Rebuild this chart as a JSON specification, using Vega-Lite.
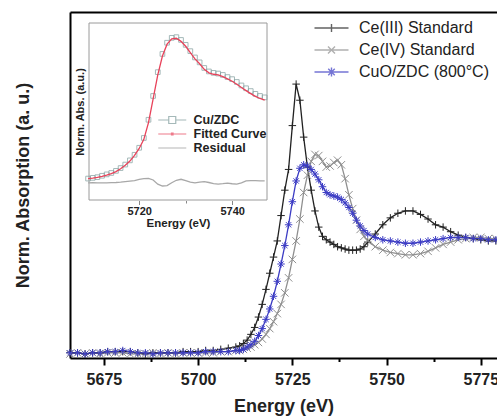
{
  "$schema": "https://vega.github.io/schema/vega-lite/v6.json",
  "width": 427,
  "height": 346,
  "autosize": "none",
  "padding": {"left": 70, "top": 12, "right": 0, "bottom": 59},
  "background": "white",
  "config": {"view": {"stroke": null}, "font": "Liberation Sans", "axis": {"grid": false}},
  "datasets": {
    "main": [
      {"series": "Ce(III) Standard", "E": 5666, "A": 0.01}, {"series": "Ce(III) Standard", "E": 5668, "A": 0.01}, {"series": "Ce(III) Standard", "E": 5670, "A": 0.0}, {"series": "Ce(III) Standard", "E": 5672, "A": 0.01}, {"series": "Ce(III) Standard", "E": 5674, "A": 0.01}, {"series": "Ce(III) Standard", "E": 5676, "A": 0.02}, {"series": "Ce(III) Standard", "E": 5678, "A": 0.02}, {"series": "Ce(III) Standard", "E": 5680, "A": 0.02}, {"series": "Ce(III) Standard", "E": 5682, "A": 0.02}, {"series": "Ce(III) Standard", "E": 5684, "A": 0.01}, {"series": "Ce(III) Standard", "E": 5686, "A": 0.0}, {"series": "Ce(III) Standard", "E": 5688, "A": 0.01}, {"series": "Ce(III) Standard", "E": 5690, "A": 0.01}, {"series": "Ce(III) Standard", "E": 5692, "A": 0.01}, {"series": "Ce(III) Standard", "E": 5694, "A": 0.01}, {"series": "Ce(III) Standard", "E": 5696, "A": 0.02}, {"series": "Ce(III) Standard", "E": 5698, "A": 0.02}, {"series": "Ce(III) Standard", "E": 5700, "A": 0.02}, {"series": "Ce(III) Standard", "E": 5702, "A": 0.03}, {"series": "Ce(III) Standard", "E": 5704, "A": 0.03}, {"series": "Ce(III) Standard", "E": 5706, "A": 0.04}, {"series": "Ce(III) Standard", "E": 5708, "A": 0.05},
      {"series": "Ce(III) Standard", "E": 5710, "A": 0.06}, {"series": "Ce(III) Standard", "E": 5711, "A": 0.07}, {"series": "Ce(III) Standard", "E": 5712, "A": 0.09}, {"series": "Ce(III) Standard", "E": 5713, "A": 0.12}, {"series": "Ce(III) Standard", "E": 5714, "A": 0.17}, {"series": "Ce(III) Standard", "E": 5715, "A": 0.23}, {"series": "Ce(III) Standard", "E": 5716, "A": 0.32}, {"series": "Ce(III) Standard", "E": 5717, "A": 0.43}, {"series": "Ce(III) Standard", "E": 5718, "A": 0.56}, {"series": "Ce(III) Standard", "E": 5719, "A": 0.7}, {"series": "Ce(III) Standard", "E": 5720, "A": 0.84}, {"series": "Ce(III) Standard", "E": 5721, "A": 0.98}, {"series": "Ce(III) Standard", "E": 5722, "A": 1.2}, {"series": "Ce(III) Standard", "E": 5723, "A": 1.42}, {"series": "Ce(III) Standard", "E": 5724, "A": 1.6}, {"series": "Ce(III) Standard", "E": 5725, "A": 1.98}, {"series": "Ce(III) Standard", "E": 5726, "A": 2.34}, {"series": "Ce(III) Standard", "E": 5727, "A": 2.2}, {"series": "Ce(III) Standard", "E": 5728, "A": 1.88}, {"series": "Ce(III) Standard", "E": 5729, "A": 1.62}, {"series": "Ce(III) Standard", "E": 5730, "A": 1.42}, {"series": "Ce(III) Standard", "E": 5731, "A": 1.24}, {"series": "Ce(III) Standard", "E": 5732, "A": 1.1}, {"series": "Ce(III) Standard", "E": 5733, "A": 1.02}, {"series": "Ce(III) Standard", "E": 5734, "A": 0.99}, {"series": "Ce(III) Standard", "E": 5735, "A": 0.97}, {"series": "Ce(III) Standard", "E": 5736, "A": 0.95}, {"series": "Ce(III) Standard", "E": 5737, "A": 0.93}, {"series": "Ce(III) Standard", "E": 5738, "A": 0.92}, {"series": "Ce(III) Standard", "E": 5739, "A": 0.91}, {"series": "Ce(III) Standard", "E": 5740, "A": 0.9}, {"series": "Ce(III) Standard", "E": 5741, "A": 0.9}, {"series": "Ce(III) Standard", "E": 5742, "A": 0.9}, {"series": "Ce(III) Standard", "E": 5743, "A": 0.91}, {"series": "Ce(III) Standard", "E": 5744, "A": 0.93}, {"series": "Ce(III) Standard", "E": 5745, "A": 0.97},
      {"series": "Ce(III) Standard", "E": 5747, "A": 1.04}, {"series": "Ce(III) Standard", "E": 5749, "A": 1.12}, {"series": "Ce(III) Standard", "E": 5751, "A": 1.18}, {"series": "Ce(III) Standard", "E": 5753, "A": 1.22}, {"series": "Ce(III) Standard", "E": 5755, "A": 1.24}, {"series": "Ce(III) Standard", "E": 5757, "A": 1.24}, {"series": "Ce(III) Standard", "E": 5759, "A": 1.21}, {"series": "Ce(III) Standard", "E": 5761, "A": 1.17}, {"series": "Ce(III) Standard", "E": 5763, "A": 1.12}, {"series": "Ce(III) Standard", "E": 5765, "A": 1.1}, {"series": "Ce(III) Standard", "E": 5767, "A": 1.06}, {"series": "Ce(III) Standard", "E": 5769, "A": 1.03}, {"series": "Ce(III) Standard", "E": 5771, "A": 1.01}, {"series": "Ce(III) Standard", "E": 5773, "A": 1.0}, {"series": "Ce(III) Standard", "E": 5775, "A": 0.99}, {"series": "Ce(III) Standard", "E": 5777, "A": 0.98}, {"series": "Ce(III) Standard", "E": 5779, "A": 0.98},

      {"series": "Ce(IV) Standard", "E": 5666, "A": 0.0}, {"series": "Ce(IV) Standard", "E": 5668, "A": 0.01}, {"series": "Ce(IV) Standard", "E": 5670, "A": 0.0}, {"series": "Ce(IV) Standard", "E": 5672, "A": 0.01}, {"series": "Ce(IV) Standard", "E": 5674, "A": 0.0}, {"series": "Ce(IV) Standard", "E": 5676, "A": 0.01}, {"series": "Ce(IV) Standard", "E": 5678, "A": 0.01}, {"series": "Ce(IV) Standard", "E": 5680, "A": 0.01}, {"series": "Ce(IV) Standard", "E": 5682, "A": 0.0}, {"series": "Ce(IV) Standard", "E": 5684, "A": 0.0}, {"series": "Ce(IV) Standard", "E": 5686, "A": 0.0}, {"series": "Ce(IV) Standard", "E": 5688, "A": 0.01}, {"series": "Ce(IV) Standard", "E": 5690, "A": 0.0}, {"series": "Ce(IV) Standard", "E": 5692, "A": 0.01}, {"series": "Ce(IV) Standard", "E": 5694, "A": 0.0}, {"series": "Ce(IV) Standard", "E": 5696, "A": 0.01}, {"series": "Ce(IV) Standard", "E": 5698, "A": 0.01}, {"series": "Ce(IV) Standard", "E": 5700, "A": 0.01}, {"series": "Ce(IV) Standard", "E": 5702, "A": 0.01}, {"series": "Ce(IV) Standard", "E": 5704, "A": 0.01}, {"series": "Ce(IV) Standard", "E": 5706, "A": 0.02}, {"series": "Ce(IV) Standard", "E": 5708, "A": 0.02},
      {"series": "Ce(IV) Standard", "E": 5710, "A": 0.03}, {"series": "Ce(IV) Standard", "E": 5711, "A": 0.03}, {"series": "Ce(IV) Standard", "E": 5712, "A": 0.04}, {"series": "Ce(IV) Standard", "E": 5713, "A": 0.05}, {"series": "Ce(IV) Standard", "E": 5714, "A": 0.06}, {"series": "Ce(IV) Standard", "E": 5715, "A": 0.08}, {"series": "Ce(IV) Standard", "E": 5716, "A": 0.1}, {"series": "Ce(IV) Standard", "E": 5717, "A": 0.13}, {"series": "Ce(IV) Standard", "E": 5718, "A": 0.17}, {"series": "Ce(IV) Standard", "E": 5719, "A": 0.22}, {"series": "Ce(IV) Standard", "E": 5720, "A": 0.28}, {"series": "Ce(IV) Standard", "E": 5721, "A": 0.35}, {"series": "Ce(IV) Standard", "E": 5722, "A": 0.43}, {"series": "Ce(IV) Standard", "E": 5723, "A": 0.53}, {"series": "Ce(IV) Standard", "E": 5724, "A": 0.66}, {"series": "Ce(IV) Standard", "E": 5725, "A": 0.82}, {"series": "Ce(IV) Standard", "E": 5726, "A": 0.98}, {"series": "Ce(IV) Standard", "E": 5727, "A": 1.17}, {"series": "Ce(IV) Standard", "E": 5728, "A": 1.4}, {"series": "Ce(IV) Standard", "E": 5729, "A": 1.55}, {"series": "Ce(IV) Standard", "E": 5730, "A": 1.67}, {"series": "Ce(IV) Standard", "E": 5731, "A": 1.73}, {"series": "Ce(IV) Standard", "E": 5732, "A": 1.72}, {"series": "Ce(IV) Standard", "E": 5733, "A": 1.67}, {"series": "Ce(IV) Standard", "E": 5734, "A": 1.62}, {"series": "Ce(IV) Standard", "E": 5735, "A": 1.63}, {"series": "Ce(IV) Standard", "E": 5736, "A": 1.66}, {"series": "Ce(IV) Standard", "E": 5737, "A": 1.68}, {"series": "Ce(IV) Standard", "E": 5738, "A": 1.64}, {"series": "Ce(IV) Standard", "E": 5739, "A": 1.52}, {"series": "Ce(IV) Standard", "E": 5740, "A": 1.38}, {"series": "Ce(IV) Standard", "E": 5741, "A": 1.26}, {"series": "Ce(IV) Standard", "E": 5742, "A": 1.16}, {"series": "Ce(IV) Standard", "E": 5743, "A": 1.08}, {"series": "Ce(IV) Standard", "E": 5744, "A": 1.02}, {"series": "Ce(IV) Standard", "E": 5745, "A": 0.98},
      {"series": "Ce(IV) Standard", "E": 5747, "A": 0.93}, {"series": "Ce(IV) Standard", "E": 5749, "A": 0.9}, {"series": "Ce(IV) Standard", "E": 5751, "A": 0.88}, {"series": "Ce(IV) Standard", "E": 5753, "A": 0.87}, {"series": "Ce(IV) Standard", "E": 5755, "A": 0.86}, {"series": "Ce(IV) Standard", "E": 5757, "A": 0.86}, {"series": "Ce(IV) Standard", "E": 5759, "A": 0.87}, {"series": "Ce(IV) Standard", "E": 5761, "A": 0.89}, {"series": "Ce(IV) Standard", "E": 5763, "A": 0.92}, {"series": "Ce(IV) Standard", "E": 5765, "A": 0.95}, {"series": "Ce(IV) Standard", "E": 5767, "A": 0.97}, {"series": "Ce(IV) Standard", "E": 5769, "A": 0.99}, {"series": "Ce(IV) Standard", "E": 5771, "A": 1.0}, {"series": "Ce(IV) Standard", "E": 5773, "A": 1.01}, {"series": "Ce(IV) Standard", "E": 5775, "A": 1.01}, {"series": "Ce(IV) Standard", "E": 5777, "A": 1.0}, {"series": "Ce(IV) Standard", "E": 5779, "A": 1.0},

      {"series": "CuO/ZDC (800°C)", "E": 5666, "A": 0.01}, {"series": "CuO/ZDC (800°C)", "E": 5668, "A": 0.01}, {"series": "CuO/ZDC (800°C)", "E": 5670, "A": 0.0}, {"series": "CuO/ZDC (800°C)", "E": 5672, "A": 0.01}, {"series": "CuO/ZDC (800°C)", "E": 5674, "A": 0.01}, {"series": "CuO/ZDC (800°C)", "E": 5676, "A": 0.02}, {"series": "CuO/ZDC (800°C)", "E": 5678, "A": 0.02}, {"series": "CuO/ZDC (800°C)", "E": 5680, "A": 0.03}, {"series": "CuO/ZDC (800°C)", "E": 5682, "A": 0.02}, {"series": "CuO/ZDC (800°C)", "E": 5684, "A": 0.01}, {"series": "CuO/ZDC (800°C)", "E": 5686, "A": 0.01}, {"series": "CuO/ZDC (800°C)", "E": 5688, "A": 0.0}, {"series": "CuO/ZDC (800°C)", "E": 5690, "A": 0.01}, {"series": "CuO/ZDC (800°C)", "E": 5692, "A": 0.01}, {"series": "CuO/ZDC (800°C)", "E": 5694, "A": 0.01}, {"series": "CuO/ZDC (800°C)", "E": 5696, "A": 0.01}, {"series": "CuO/ZDC (800°C)", "E": 5698, "A": 0.01}, {"series": "CuO/ZDC (800°C)", "E": 5700, "A": 0.01}, {"series": "CuO/ZDC (800°C)", "E": 5702, "A": 0.02}, {"series": "CuO/ZDC (800°C)", "E": 5704, "A": 0.02}, {"series": "CuO/ZDC (800°C)", "E": 5706, "A": 0.02}, {"series": "CuO/ZDC (800°C)", "E": 5708, "A": 0.02},
      {"series": "CuO/ZDC (800°C)", "E": 5710, "A": 0.03}, {"series": "CuO/ZDC (800°C)", "E": 5711, "A": 0.03}, {"series": "CuO/ZDC (800°C)", "E": 5712, "A": 0.04}, {"series": "CuO/ZDC (800°C)", "E": 5713, "A": 0.06}, {"series": "CuO/ZDC (800°C)", "E": 5714, "A": 0.08}, {"series": "CuO/ZDC (800°C)", "E": 5715, "A": 0.11}, {"series": "CuO/ZDC (800°C)", "E": 5716, "A": 0.16}, {"series": "CuO/ZDC (800°C)", "E": 5717, "A": 0.22}, {"series": "CuO/ZDC (800°C)", "E": 5718, "A": 0.3}, {"series": "CuO/ZDC (800°C)", "E": 5719, "A": 0.39}, {"series": "CuO/ZDC (800°C)", "E": 5720, "A": 0.5}, {"series": "CuO/ZDC (800°C)", "E": 5721, "A": 0.63}, {"series": "CuO/ZDC (800°C)", "E": 5722, "A": 0.78}, {"series": "CuO/ZDC (800°C)", "E": 5723, "A": 0.94}, {"series": "CuO/ZDC (800°C)", "E": 5724, "A": 1.12}, {"series": "CuO/ZDC (800°C)", "E": 5725, "A": 1.32}, {"series": "CuO/ZDC (800°C)", "E": 5726, "A": 1.5}, {"series": "CuO/ZDC (800°C)", "E": 5727, "A": 1.61}, {"series": "CuO/ZDC (800°C)", "E": 5728, "A": 1.64}, {"series": "CuO/ZDC (800°C)", "E": 5729, "A": 1.63}, {"series": "CuO/ZDC (800°C)", "E": 5730, "A": 1.6}, {"series": "CuO/ZDC (800°C)", "E": 5731, "A": 1.56}, {"series": "CuO/ZDC (800°C)", "E": 5732, "A": 1.51}, {"series": "CuO/ZDC (800°C)", "E": 5733, "A": 1.45}, {"series": "CuO/ZDC (800°C)", "E": 5734, "A": 1.4}, {"series": "CuO/ZDC (800°C)", "E": 5735, "A": 1.38}, {"series": "CuO/ZDC (800°C)", "E": 5736, "A": 1.37}, {"series": "CuO/ZDC (800°C)", "E": 5737, "A": 1.36}, {"series": "CuO/ZDC (800°C)", "E": 5738, "A": 1.34}, {"series": "CuO/ZDC (800°C)", "E": 5739, "A": 1.31}, {"series": "CuO/ZDC (800°C)", "E": 5740, "A": 1.27}, {"series": "CuO/ZDC (800°C)", "E": 5741, "A": 1.22}, {"series": "CuO/ZDC (800°C)", "E": 5742, "A": 1.16}, {"series": "CuO/ZDC (800°C)", "E": 5743, "A": 1.11}, {"series": "CuO/ZDC (800°C)", "E": 5744, "A": 1.07}, {"series": "CuO/ZDC (800°C)", "E": 5745, "A": 1.04},
      {"series": "CuO/ZDC (800°C)", "E": 5747, "A": 1.01}, {"series": "CuO/ZDC (800°C)", "E": 5749, "A": 0.99}, {"series": "CuO/ZDC (800°C)", "E": 5751, "A": 0.98}, {"series": "CuO/ZDC (800°C)", "E": 5753, "A": 0.97}, {"series": "CuO/ZDC (800°C)", "E": 5755, "A": 0.96}, {"series": "CuO/ZDC (800°C)", "E": 5757, "A": 0.96}, {"series": "CuO/ZDC (800°C)", "E": 5759, "A": 0.97}, {"series": "CuO/ZDC (800°C)", "E": 5761, "A": 0.98}, {"series": "CuO/ZDC (800°C)", "E": 5763, "A": 0.99}, {"series": "CuO/ZDC (800°C)", "E": 5765, "A": 1.0}, {"series": "CuO/ZDC (800°C)", "E": 5767, "A": 1.01}, {"series": "CuO/ZDC (800°C)", "E": 5769, "A": 1.01}, {"series": "CuO/ZDC (800°C)", "E": 5771, "A": 1.01}, {"series": "CuO/ZDC (800°C)", "E": 5773, "A": 1.0}, {"series": "CuO/ZDC (800°C)", "E": 5775, "A": 1.0}, {"series": "CuO/ZDC (800°C)", "E": 5777, "A": 0.99}, {"series": "CuO/ZDC (800°C)", "E": 5779, "A": 0.99}
    ],
    "inset": [
      {"series": "Cu/ZDC", "E": 5709, "v": 0.01}, {"series": "Cu/ZDC", "E": 5710, "v": 0.015}, {"series": "Cu/ZDC", "E": 5711, "v": 0.02}, {"series": "Cu/ZDC", "E": 5712, "v": 0.03}, {"series": "Cu/ZDC", "E": 5713, "v": 0.04}, {"series": "Cu/ZDC", "E": 5714, "v": 0.05}, {"series": "Cu/ZDC", "E": 5715, "v": 0.065}, {"series": "Cu/ZDC", "E": 5716, "v": 0.085}, {"series": "Cu/ZDC", "E": 5717, "v": 0.11}, {"series": "Cu/ZDC", "E": 5718, "v": 0.14}, {"series": "Cu/ZDC", "E": 5719, "v": 0.18}, {"series": "Cu/ZDC", "E": 5720, "v": 0.23}, {"series": "Cu/ZDC", "E": 5721, "v": 0.3}, {"series": "Cu/ZDC", "E": 5722, "v": 0.43}, {"series": "Cu/ZDC", "E": 5723, "v": 0.6}, {"series": "Cu/ZDC", "E": 5724, "v": 0.77}, {"series": "Cu/ZDC", "E": 5725, "v": 0.9}, {"series": "Cu/ZDC", "E": 5726, "v": 0.98}, {"series": "Cu/ZDC", "E": 5727, "v": 1.015}, {"series": "Cu/ZDC", "E": 5728, "v": 1.02}, {"series": "Cu/ZDC", "E": 5729, "v": 1.0}, {"series": "Cu/ZDC", "E": 5730, "v": 0.965}, {"series": "Cu/ZDC", "E": 5731, "v": 0.92}, {"series": "Cu/ZDC", "E": 5732, "v": 0.875}, {"series": "Cu/ZDC", "E": 5733, "v": 0.84}, {"series": "Cu/ZDC", "E": 5734, "v": 0.8}, {"series": "Cu/ZDC", "E": 5735, "v": 0.775}, {"series": "Cu/ZDC", "E": 5736, "v": 0.765}, {"series": "Cu/ZDC", "E": 5737, "v": 0.76}, {"series": "Cu/ZDC", "E": 5738, "v": 0.75}, {"series": "Cu/ZDC", "E": 5739, "v": 0.735}, {"series": "Cu/ZDC", "E": 5740, "v": 0.72}, {"series": "Cu/ZDC", "E": 5741, "v": 0.7}, {"series": "Cu/ZDC", "E": 5742, "v": 0.675}, {"series": "Cu/ZDC", "E": 5743, "v": 0.655}, {"series": "Cu/ZDC", "E": 5744, "v": 0.635}, {"series": "Cu/ZDC", "E": 5745, "v": 0.615}, {"series": "Cu/ZDC", "E": 5746, "v": 0.6}, {"series": "Cu/ZDC", "E": 5747, "v": 0.59},
      {"series": "Fitted Curve", "E": 5709, "v": 0.01}, {"series": "Fitted Curve", "E": 5710, "v": 0.013}, {"series": "Fitted Curve", "E": 5711, "v": 0.018}, {"series": "Fitted Curve", "E": 5712, "v": 0.026}, {"series": "Fitted Curve", "E": 5713, "v": 0.035}, {"series": "Fitted Curve", "E": 5714, "v": 0.046}, {"series": "Fitted Curve", "E": 5715, "v": 0.06}, {"series": "Fitted Curve", "E": 5716, "v": 0.08}, {"series": "Fitted Curve", "E": 5717, "v": 0.105}, {"series": "Fitted Curve", "E": 5718, "v": 0.135}, {"series": "Fitted Curve", "E": 5719, "v": 0.175}, {"series": "Fitted Curve", "E": 5720, "v": 0.225}, {"series": "Fitted Curve", "E": 5721, "v": 0.29}, {"series": "Fitted Curve", "E": 5722, "v": 0.41}, {"series": "Fitted Curve", "E": 5723, "v": 0.58}, {"series": "Fitted Curve", "E": 5724, "v": 0.75}, {"series": "Fitted Curve", "E": 5725, "v": 0.885}, {"series": "Fitted Curve", "E": 5726, "v": 0.97}, {"series": "Fitted Curve", "E": 5727, "v": 1.008}, {"series": "Fitted Curve", "E": 5728, "v": 1.012}, {"series": "Fitted Curve", "E": 5729, "v": 0.99}, {"series": "Fitted Curve", "E": 5730, "v": 0.955}, {"series": "Fitted Curve", "E": 5731, "v": 0.91}, {"series": "Fitted Curve", "E": 5732, "v": 0.865}, {"series": "Fitted Curve", "E": 5733, "v": 0.83}, {"series": "Fitted Curve", "E": 5734, "v": 0.79}, {"series": "Fitted Curve", "E": 5735, "v": 0.765}, {"series": "Fitted Curve", "E": 5736, "v": 0.755}, {"series": "Fitted Curve", "E": 5737, "v": 0.75}, {"series": "Fitted Curve", "E": 5738, "v": 0.738}, {"series": "Fitted Curve", "E": 5739, "v": 0.722}, {"series": "Fitted Curve", "E": 5740, "v": 0.705}, {"series": "Fitted Curve", "E": 5741, "v": 0.684}, {"series": "Fitted Curve", "E": 5742, "v": 0.66}, {"series": "Fitted Curve", "E": 5743, "v": 0.638}, {"series": "Fitted Curve", "E": 5744, "v": 0.617}, {"series": "Fitted Curve", "E": 5745, "v": 0.597}, {"series": "Fitted Curve", "E": 5746, "v": 0.582}, {"series": "Fitted Curve", "E": 5747, "v": 0.57},
      {"series": "Residual", "E": 5709, "v": -0.02}, {"series": "Residual", "E": 5710, "v": -0.019}, {"series": "Residual", "E": 5711, "v": -0.02}, {"series": "Residual", "E": 5712, "v": -0.021}, {"series": "Residual", "E": 5713, "v": -0.02}, {"series": "Residual", "E": 5714, "v": -0.019}, {"series": "Residual", "E": 5715, "v": -0.018}, {"series": "Residual", "E": 5716, "v": -0.016}, {"series": "Residual", "E": 5717, "v": -0.012}, {"series": "Residual", "E": 5718, "v": -0.008}, {"series": "Residual", "E": 5719, "v": -0.004}, {"series": "Residual", "E": 5720, "v": 0.004}, {"series": "Residual", "E": 5721, "v": 0.01}, {"series": "Residual", "E": 5722, "v": 0.012}, {"series": "Residual", "E": 5723, "v": 0.0}, {"series": "Residual", "E": 5724, "v": -0.03}, {"series": "Residual", "E": 5725, "v": -0.043}, {"series": "Residual", "E": 5726, "v": -0.04}, {"series": "Residual", "E": 5727, "v": -0.02}, {"series": "Residual", "E": 5728, "v": -0.002}, {"series": "Residual", "E": 5729, "v": 0.005}, {"series": "Residual", "E": 5730, "v": -0.005}, {"series": "Residual", "E": 5731, "v": -0.016}, {"series": "Residual", "E": 5732, "v": -0.021}, {"series": "Residual", "E": 5733, "v": -0.016}, {"series": "Residual", "E": 5734, "v": -0.012}, {"series": "Residual", "E": 5735, "v": -0.018}, {"series": "Residual", "E": 5736, "v": -0.026}, {"series": "Residual", "E": 5737, "v": -0.029}, {"series": "Residual", "E": 5738, "v": -0.026}, {"series": "Residual", "E": 5739, "v": -0.022}, {"series": "Residual", "E": 5740, "v": -0.027}, {"series": "Residual", "E": 5741, "v": -0.03}, {"series": "Residual", "E": 5742, "v": -0.02}, {"series": "Residual", "E": 5743, "v": -0.007}, {"series": "Residual", "E": 5744, "v": -0.004}, {"series": "Residual", "E": 5745, "v": -0.005}, {"series": "Residual", "E": 5746, "v": -0.006}, {"series": "Residual", "E": 5747, "v": -0.007}
    ]
  },
  "layer": [
    {
      "data": {"name": "main"},
      "mark": {"type": "point", "opacity": 0},
      "encoding": {
        "x": {"field": "E", "type": "quantitative", "scale": {"domain": [5666, 5779.3], "nice": false, "zero": false},
              "axis": {"orient": "top", "domain": true, "domainColor": "black", "domainWidth": 2, "ticks": false, "labels": false, "title": null}},
        "y": {"field": "A", "type": "quantitative", "scale": {"domain": [-0.035, 2.965], "nice": false, "zero": false}, "axis": null}
      }
    },
    {
      "data": {"values": [{}]},
      "mark": {"type": "rect", "fill": "transparent", "stroke": "#9a9a9a", "strokeWidth": 1},
      "encoding": {
        "x": {"datum": 5709.2, "type": "quantitative", "scale": {"domain": [5709.2, 5747.5], "range": [19, 197], "nice": false, "zero": false}, "axis": null},
        "x2": {"datum": 5747.5},
        "y": {"datum": -0.143, "type": "quantitative", "scale": {"domain": [-0.143, 1.121], "range": [188, 11], "nice": false, "zero": false}, "axis": null},
        "y2": {"datum": 1.121}
      }
    },
    {
      "data": {"name": "main"},
      "encoding": {
        "x": {"field": "E", "type": "quantitative", "scale": {"domain": [5666, 5779.3], "nice": false, "zero": false},
              "axis": {"orient": "bottom", "values": [5675, 5687.5, 5700, 5712.5, 5725, 5737.5, 5750, 5762.5, 5775], "format": "d",
                       "labelExpr": "datum.value % 25 === 0 ? datum.label : ''",
                       "domain": true, "domainColor": "black", "domainWidth": 2, "tickColor": "black", "tickWidth": 2,
                       "tickSize": {"condition": {"test": "datum.value % 25 !== 0", "value": 3.5}, "value": 7},
                       "labelFont": "Liberation Sans", "labelFontWeight": "bold", "labelFontSize": 16, "labelColor": "#222222", "labelPadding": 6, "labelFlush": false, "labelOverlap": false,
                       "title": "Energy (eV)", "titleFont": "Liberation Sans", "titleFontSize": 18, "titleFontWeight": "bold", "titleColor": "#222222", "titlePadding": 10}},
        "y": {"field": "A", "type": "quantitative", "scale": {"domain": [-0.035, 2.965], "nice": false, "zero": false},
              "axis": {"orient": "left", "domain": true, "domainColor": "black", "domainWidth": 2, "ticks": false, "labels": false,
                       "title": "Norm. Absorption (a. u.)", "titleFont": "Liberation Sans", "titleFontSize": 18, "titleFontWeight": "bold", "titleColor": "#222222", "titlePadding": 38}},
        "color": {"field": "series", "type": "nominal",
                  "scale": {"domain": ["Ce(III) Standard", "Ce(IV) Standard", "CuO/ZDC (800°C)"], "range": ["#222222", "#8f8f8f", "#3c3cc4"]},
                  "legend": null}
      },
      "layer": [
        {"mark": {"type": "line", "strokeWidth": 1.3}},
        {"mark": {"type": "point", "filled": false, "size": 56, "strokeWidth": 1, "opacity": 1},
         "encoding": {"shape": {"field": "series", "type": "nominal",
                                "scale": {"domain": ["Ce(III) Standard", "Ce(IV) Standard", "CuO/ZDC (800°C)"],
                                          "range": ["M-1,0L1,0M0,-1L0,1", "M-1,-1L1,1M-1,1L1,-1", "M-1,0L1,0M0,-1L0,1M-0.7,-0.7L0.7,0.7M-0.7,0.7L0.7,-0.7"]},
                                "legend": null}}}
      ]
    },
    {
      "data": {"name": "inset"},
      "encoding": {
        "x": {"field": "E", "type": "quantitative", "scale": {"domain": [5709.2, 5747.5], "range": [19, 197], "nice": false, "zero": false},
              "axis": {"orient": "bottom", "offset": -157.5, "values": [5720, 5730, 5740], "format": "d",
                       "labelExpr": "datum.value === 5730 ? '' : datum.label",
                       "domain": false, "tickColor": "#888888", "tickWidth": 1,
                       "tickSize": {"condition": {"test": "datum.value === 5730", "value": 2.5}, "value": 4},
                       "labelFont": "Liberation Sans", "labelFontWeight": "bold", "labelFontSize": 11, "labelColor": "#222222", "labelPadding": 1, "labelFlush": false,
                       "title": "Energy (eV)", "titleFont": "Liberation Sans", "titleFontSize": 11.5, "titleFontWeight": "bold", "titleColor": "#222222", "titlePadding": 1}},
        "y": {"field": "v", "type": "quantitative", "scale": {"domain": [-0.143, 1.121], "range": [188, 11], "nice": false, "zero": false},
              "axis": {"orient": "left", "offset": -19, "domain": false, "ticks": false, "labels": false,
                       "title": "Norm. Abs. (a.u.)", "titleFont": "Liberation Sans", "titleFontSize": 11, "titleFontWeight": "bold", "titleColor": "#222222", "titlePadding": 4}},
        "color": {"field": "series", "type": "nominal",
                  "scale": {"domain": ["Cu/ZDC", "Fitted Curve", "Residual"], "range": ["#7f9c9c", "#e8425a", "#a8a8a8"]},
                  "legend": null}
      },
      "layer": [
        {"transform": [{"filter": "datum.series === 'Cu/ZDC'"}],
         "mark": {"type": "point", "shape": "square", "filled": false, "size": 22, "strokeWidth": 1}},
        {"transform": [{"filter": "datum.series !== 'Cu/ZDC'"}],
         "mark": {"type": "line", "strokeWidth": 1.3}}
      ]
    },
    {
      "data": {"name": "main"},
      "transform": [{"filter": "datum.E < 0"}],
      "mark": {"type": "point", "filled": false, "strokeWidth": 1.4},
      "encoding": {
        "color": {"field": "series", "type": "nominal",
                  "scale": {"domain": ["Ce(III) Standard", "Ce(IV) Standard", "CuO/ZDC (800°C)"], "range": ["#222222", "#8f8f8f", "#3c3cc4"]},
                  "legend": {"orient": "none", "legendX": 253.5, "legendY": 8, "title": null, "padding": 0,
                             "labelFont": "Liberation Sans", "labelFontSize": 16, "labelColor": "#222222", "labelBaseline": "middle",
                             "symbolSize": 100, "labelOffset": 19.5, "rowPadding": 6, "symbolStrokeWidth": 1.4}},
        "shape": {"field": "series", "type": "nominal",
                  "scale": {"domain": ["Ce(III) Standard", "Ce(IV) Standard", "CuO/ZDC (800°C)"],
                            "range": ["M-3.4,0L3.4,0M0,-0.8L0,0.8", "M-3.4,0L3.4,0M-0.7,-0.7L0.7,0.7M-0.7,0.7L0.7,-0.7", "M-3.4,0L3.4,0M0,-0.9L0,0.9M-0.65,-0.65L0.65,0.65M-0.65,0.65L0.65,-0.65"]},
                  "legend": {"orient": "none", "legendX": 253.5, "legendY": 8, "title": null, "padding": 0,
                             "labelFont": "Liberation Sans", "labelFontSize": 16, "labelColor": "#222222", "labelBaseline": "middle",
                             "symbolSize": 100, "labelOffset": 19.5, "rowPadding": 6, "symbolStrokeWidth": 1.4}}
      }
    },
    {
      "data": {"name": "inset"},
      "transform": [{"filter": "datum.E < 0"}],
      "mark": {"type": "point", "filled": false, "strokeWidth": 1.2},
      "encoding": {
        "color": {"field": "series", "type": "nominal",
                  "scale": {"domain": ["Cu/ZDC", "Fitted Curve", "Residual"], "range": ["#7f9c9c", "#e8425a", "#a8a8a8"]},
                  "legend": {"orient": "none", "legendX": 96, "legendY": 101.75, "title": null, "padding": 0,
                             "labelFont": "Liberation Sans", "labelFontSize": 12.5, "labelFontWeight": "bold", "labelColor": "#222222", "labelBaseline": "middle",
                             "symbolSize": 64, "labelOffset": 15, "rowPadding": 1, "symbolStrokeWidth": 1.2}},
        "shape": {"field": "series", "type": "nominal",
                  "scale": {"domain": ["Cu/ZDC", "Fitted Curve", "Residual"],
                            "range": ["M-3.5,0L-0.875,0M0.875,0L3.5,0M-0.875,-0.875L0.875,-0.875L0.875,0.875L-0.875,0.875Z", "M-3.5,0L3.5,0M-0.2,-0.2L0.2,-0.2L0.2,0.2L-0.2,0.2Z", "M-3.5,0L3.5,0"]},
                  "legend": {"orient": "none", "legendX": 96, "legendY": 101.75, "title": null, "padding": 0,
                             "labelFont": "Liberation Sans", "labelFontSize": 12.5, "labelFontWeight": "bold", "labelColor": "#222222", "labelBaseline": "middle",
                             "symbolSize": 64, "labelOffset": 15, "rowPadding": 1, "symbolStrokeWidth": 1.2}}
      }
    }
  ],
  "resolve": {"scale": {"x": "independent", "y": "independent", "color": "independent", "shape": "independent"}}
}
